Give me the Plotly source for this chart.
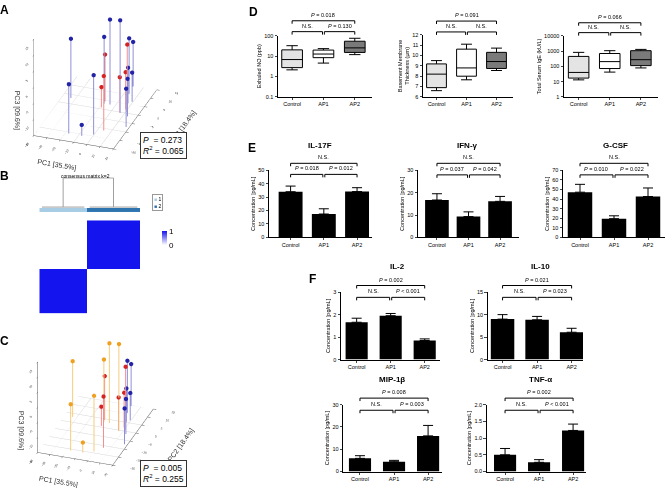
import plotly.graph_objects as go

W, H = 667, 491
FONT = "Arial, Liberation Sans, sans-serif"

# ---------------- data ----------------
groups = ["Control", "AP1", "AP2"]

# PCA scores (panels A and C)
pc1 = [-17.4, -33.4, -7.7, -0.3, 4.5, -8.3, -8.4, -8.9, -4.0, 6.8, 6.5, 17.7, 11.1, 8.8, 13.5, 7.4, 3.5, 9.4, 2.6]
pc2 = [-15.9, 3.0, -15.9, -14.2, -11.2, 0.7, 3.0, 4.2, 3.0, -0.4, -0.4, -7.3, 0.7, 1.9, -1.6, 5.3, 10.4, 6.5, 14.6]
pc3 = [0.4, 3.5, -11.6, 3.5, 2.0, -8.6, 5.8, -0.35, 11.5, 13.8, -3.9, -3.1, 6.0, -3.4, -3.3, -3.9, 2.3, -5.9, -1.1]
group_A = ["b", "b", "b", "b", "r", "r", "b", "r", "b", "b", "r", "b", "r", "r", "b", "b", "b", "b", "b"]
group_C = ["o", "o", "o", "o", "r", "r", "o", "r", "o", "o", "r", "b", "r", "r", "b", "b", "b", "b", "b"]
pc1_ticks = [-40, -30, -20, -10, 0, 10, 20]
pc2_ticks = [-20, -15, -10, -5, 0, 5, 10, 15]
pc3_ticks = [-15, -10, -5, 0, 5, 10, 15]
stats_A = ("0.273", "0.065")
stats_C = ("0.005", "0.255")

# consensus clustering (panel B)
cluster_order = [1] * 9 + [2] * 10

# Panel D box plots (lower whisker, Q1, median, Q3, upper whisker)
no_low = [2.1, 4.5, 11.7]
no_q1 = [2.7, 8.3, 15.0]
no_med = [6.7, 12.5, 25.0]
no_q3 = [20.0, 19.5, 53.0]
no_high = [32.0, 23.0, 74.0]

bm_low = [6.6, 7.65, 8.55]
bm_q1 = [6.89, 8.0, 8.75]
bm_med = [8.2, 8.8, 9.42]
bm_q3 = [9.19, 10.62, 10.31]
bm_high = [9.51, 11.1, 10.72]

ige_low = [13, 42, 79]
ige_q1 = [17, 72, 112]
ige_med = [40, 205, 275]
ige_q3 = [450, 700, 1070]
ige_high = [830, 1070, 1300]

# Panel E / F bar charts (mean, SEM)
il17f = [34.0, 17.4, 34.1]
il17f_err = [4.2, 3.9, 2.9]
ifng = [16.7, 9.3, 16.1]
ifng_err = [2.8, 2.1, 2.2]
gcsf = [47.1, 19.5, 42.6]
gcsf_err = [8.2, 3.0, 8.9]
il2 = [1.66, 1.95, 0.85]
il2_err = [0.18, 0.10, 0.07]
il10 = [9.0, 8.85, 6.08]
il10_err = [1.0, 0.75, 0.88]
mip1b = [5.9, 4.4, 16.0]
mip1b_err = [1.2, 0.6, 4.7]
tnfa = [0.50, 0.275, 1.23]
tnfa_err = [0.19, 0.08, 0.19]

# p-value labels: (top 0-2, low 0-1, low 1-2)
p_no = ("<i>P</i> = 0.018", "N.S.", "<i>P</i> = 0.130")
p_bm = ("<i>P</i> = 0.091", "N.S.", "N.S.")
p_ige = ("<i>P</i> = 0.066", "N.S.", "N.S.")
p_il17f = ("N.S.", "<i>P</i> = 0.018", "<i>P</i> = 0.012")
p_ifng = ("N.S.", "<i>P</i> = 0.037", "<i>P</i> = 0.042")
p_gcsf = ("N.S.", "<i>P</i> = 0.010", "<i>P</i> = 0.022")
p_il2 = ("<i>P</i> = 0.002", "N.S.", "<i>P</i> < 0.001")
p_il10 = ("<i>P</i> = 0.021", "N.S.", "<i>P</i> = 0.023")
p_mip = ("<i>P</i> = 0.008", "N.S.", "<i>P</i> = 0.003")
p_tnf = ("<i>P</i> = 0.002", "N.S.", "<i>P</i> < 0.001")

# ---------------- helpers ----------------
def xd(a, b):
    return [a / W, b / W]


def yd(top, bottom):
    return [1 - bottom / H, 1 - top / H]


def py(y):
    return 1 - y / H


fig = go.Figure()
layout = dict(width=W, height=H, margin=dict(l=0, r=0, t=0, b=0),
              paper_bgcolor="white", plot_bgcolor="white",
              font=dict(family=FONT, color="black"), showlegend=False)
shapes = []
annotations = []

xpos = list(range(len(groups)))

# ---------------- 3D PCA panels ----------------
def add_pca(scene, garr, palette):
    floor = pc3_ticks[0]
    gx, gy, gz = [], [], []
    for t in pc1_ticks:
        gx += [t, t, None]; gy += [pc2_ticks[0], pc2_ticks[-1], None]; gz += [floor, floor, None]
    for t in pc2_ticks:
        gx += [pc1_ticks[0], pc1_ticks[-1], None]; gy += [t, t, None]; gz += [floor, floor, None]
    fig.add_trace(go.Scatter3d(x=gx, y=gy, z=gz, mode="lines", line=dict(color="#d8d8d8", width=1),
                               scene=scene, hoverinfo="skip", showlegend=False))
    for key, (pcol, scol) in palette.items():
        idx = [i for i, g in enumerate(garr) if g == key]
        sx, sy, sz = [], [], []
        for i in idx:
            sx += [pc1[i], pc1[i], None]; sy += [pc2[i], pc2[i], None]; sz += [pc3[i], floor, None]
        fig.add_trace(go.Scatter3d(x=sx, y=sy, z=sz, mode="lines", line=dict(color=scol, width=2),
                                   scene=scene, hoverinfo="skip", showlegend=False))
        fig.add_trace(go.Scatter3d(x=[pc1[i] for i in idx], y=[pc2[i] for i in idx], z=[pc3[i] for i in idx],
                                   mode="markers", marker=dict(color=pcol, size=2.5),
                                   scene=scene, showlegend=False))


add_pca("scene", group_A, {"b": ("#2323a8", "#9090d8"), "r": ("#d42323", "#f09090")})
add_pca("scene2", group_C, {"o": ("#f0a020", "#f6cc80"), "r": ("#d42323", "#f09090"),
                            "b": ("#2323a8", "#9090d8")})


def scene_layout(top, bottom, cz):
    ac = dict(showgrid=False, showbackground=False, zeroline=False, showline=True, linecolor="#555",
              linewidth=1, ticks="outside", ticklen=3, tickcolor="#555",
              tickfont=dict(size=6, color="#333", family=FONT), showspikes=False)
    tf = dict(size=7, color="#333", family=FONT)
    return dict(domain=dict(x=[0.0, 0.30], y=yd(top, bottom)), bgcolor="white",
                xaxis=dict(ac, title=dict(text="PC1 [35.5%]", font=tf), range=[pc1_ticks[0], pc1_ticks[-1]], tickvals=pc1_ticks),
                yaxis=dict(ac, title=dict(text="PC2 [18.4%]", font=tf), range=[pc2_ticks[0], pc2_ticks[-1]], tickvals=pc2_ticks),
                zaxis=dict(ac, title=dict(text="PC3 [09.6%]", font=tf), range=[pc3_ticks[0], pc3_ticks[-1]], tickvals=pc3_ticks),
                aspectmode="manual", aspectratio=dict(x=1, y=1.55, z=1.3),
                camera=dict(projection=dict(type="orthographic"), eye=dict(x=0.97, y=-2.6, z=1.2),
                            up=dict(x=0, y=0, z=1), center=dict(x=0.06, y=0, z=cz)))


layout["scene"] = scene_layout(0, 171, -0.3)
layout["scene2"] = scene_layout(330, 491, -0.32)

for (stats, top) in ((stats_A, 131), (stats_C, 463)):
    annotations.append(dict(x=140 / W, y=py(top), xref="paper", yref="paper", xanchor="left", yanchor="top",
                            text="<i>P</i>  = %s<br><i>R</i><sup>2</sup> = %s" % stats, showarrow=False,
                            align="left", font=dict(size=8.5), bordercolor="#333", borderwidth=1, borderpad=2,
                            bgcolor="white"))

# ---------------- panel B ----------------
n = len(cluster_order)
cons = [[1 if cluster_order[i] == cluster_order[j] else 0 for j in range(n)] for i in range(n)]
fig.add_trace(go.Heatmap(z=cons, xaxis="x", yaxis="y", colorscale=[[0, "#ffffff"], [1, "#1414ee"]],
                         zmin=0, zmax=1, hoverinfo="skip",
                         colorbar=dict(x=152 / W, xanchor="left", y=py(221), yanchor="top", len=34 / H,
                                       lenmode="fraction", thickness=5, tickvals=[0, 1], ticks="",
                                       tickfont=dict(size=8), outlinewidth=0)))
fig.add_trace(go.Heatmap(z=[cluster_order], xaxis="x2", yaxis="y2", showscale=False,
                         colorscale=[[0, "#a6cde3"], [1, "#2e75b0"]], hoverinfo="skip"))
# dendrogram
centers = {}
dx, dy = [], []
for c in sorted(set(cluster_order)):
    leaves = [i for i, v in enumerate(cluster_order) if v == c]
    centers[c] = sum(leaves) / len(leaves)
    dx += [leaves[0], leaves[-1], None]; dy += [0.03, 0.03, None]
    dx += [centers[c], centers[c], None]; dy += [0.03, 1.0, None]
cs = sorted(centers)
dx += [centers[cs[0]], centers[cs[-1]], None]; dy += [1.0, 1.0, None]
fig.add_trace(go.Scatter(x=dx, y=dy, xaxis="x3", yaxis="y3", mode="lines",
                         line=dict(color="#a0a0a0", width=1), hoverinfo="skip"))
hide = dict(showticklabels=False, ticks="", showgrid=False, zeroline=False, showline=False)
layout["xaxis"] = dict(hide, domain=xd(39.3, 140), range=[-0.5, n - 0.5])
layout["yaxis"] = dict(hide, domain=yd(220, 314.3), range=[-0.5, n - 0.5])
layout["xaxis2"] = dict(hide, domain=xd(39.3, 140), range=[-0.5, n - 0.5], anchor="y2")
layout["yaxis2"] = dict(hide, domain=yd(207.5, 211.5), anchor="x2")
layout["xaxis3"] = dict(hide, domain=xd(39.3, 140), range=[-0.5, n - 0.5], anchor="y3")
layout["yaxis3"] = dict(hide, domain=yd(176.5, 207.5), range=[0, 1.02], anchor="x3")
annotations.append(dict(x=85 / W, y=py(175), xref="paper", yref="paper", text="consensus matrix k=2",
                        showarrow=False, font=dict(size=5), xanchor="center", yanchor="middle"))
annotations.append(dict(x=152 / W, y=py(193), xref="paper", yref="paper", xanchor="left", yanchor="top",
                        text='<span style="color:#a6cde3">■</span> 1<br><span style="color:#2e75b0">■</span> 2',
                        showarrow=False, align="left", font=dict(size=5), bordercolor="#999",
                        borderwidth=1, borderpad=1))

# ---------------- 2D plot helpers ----------------
def axes(k, x0, x1, ytop, ybot, xr, yr, ytitle, ytype="linear", yticks=None, yticktext=None):
    layout["xaxis%d" % k] = dict(domain=xd(x0, x1), range=xr, anchor="y%d" % k, tickvals=xpos, ticktext=groups,
                                 showline=True, linecolor="black", linewidth=1, ticks="outside", ticklen=2,
                                 tickfont=dict(size=5.5, color="black"), showgrid=False, zeroline=False)
    ya = dict(domain=yd(ytop, ybot), range=yr, anchor="x%d" % k, type=ytype, showline=True, linecolor="black",
              linewidth=1, ticks="outside", ticklen=2.5, tickfont=dict(size=5.5, color="black"), showgrid=False,
              zeroline=False, title=dict(text=ytitle, font=dict(size=5.5, color="black"), standoff=2))
    if yticks is not None:
        ya["tickvals"] = yticks
        ya["ticktext"] = yticktext if yticktext is not None else [str(v) for v in yticks]
    layout["yaxis%d" % k] = ya


def brackets(k, labels, top_line, low_line):
    xr = "x%d" % k
    spans = [(0, 2, top_line), (0, 0.97, low_line), (1.03, 2, low_line)]
    for (a, b, yl), lab in zip(spans, labels):
        for sh in ((a, b, yl, yl), (a, a, yl, yl + 3), (b, b, yl, yl + 3)):
            shapes.append(dict(type="line", xref=xr, yref="paper", x0=sh[0], x1=sh[1], y0=py(sh[2]), y1=py(sh[3]),
                               line=dict(color="black", width=1)))
        annotations.append(dict(x=(a + b) / 2, y=py(yl - 1), xref=xr, yref="paper", text=lab, showarrow=False,
                                xanchor="center", yanchor="bottom", font=dict(size=5.5)))


def title(x, y, text):
    annotations.append(dict(x=x / W, y=py(y), xref="paper", yref="paper", text="<b>%s</b>" % text,
                            showarrow=False, font=dict(size=8), xanchor="center", yanchor="middle"))


def add_bars(k, vals, errs, width):
    fig.add_trace(go.Bar(x=xpos, y=vals, width=width, xaxis="x%d" % k, yaxis="y%d" % k,
                         marker=dict(color="black", line=dict(width=0)),
                         error_y=dict(type="data", array=errs, arrayminus=[0] * len(errs), symmetric=False,
                                      color="black", thickness=1, width=5)))


def add_boxes(k, low, q1, med, q3, high, fills):
    for i in xpos:
        fig.add_trace(go.Box(x=[i], q1=[q1[i]], median=[med[i]], q3=[q3[i]], lowerfence=[low[i]],
                             upperfence=[high[i]], xaxis="x%d" % k, yaxis="y%d" % k, width=0.66,
                             whiskerwidth=0.55, fillcolor=fills[i], line=dict(color="black", width=1),
                             boxpoints=False, hoverinfo="skip"))


box_fills = ["#e4e4e4", "#ffffff", "#7a7a7a"]

# ---------------- panel D ----------------
add_boxes(4, no_low, no_q1, no_med, no_q3, no_high, box_fills)
axes(4, 278, 372, 33, 95, [-0.45, 2.55], [-1, 2], "Exhaled NO (ppb)", "log",
     [0.1, 1, 10, 100], ["0.1", "1", "10", "100"])
brackets(4, p_no, 18, 29)

add_boxes(5, bm_low, bm_q1, bm_med, bm_q3, bm_high, box_fills)
axes(5, 423, 513, 32.3, 95, [-0.45, 2.55], [6, 12], "Basement Membrane<br>Thickness (\u03bcm)", "linear",
     [6, 7, 8, 9, 10, 11, 12])
brackets(5, p_bm, 18.3, 29.3)

add_boxes(6, ige_low, ige_q1, ige_med, ige_q3, ige_high, box_fills)
axes(6, 564, 658, 33.3, 95, [-0.47, 2.55], [0, 4], "Total Serum IgE (kU/L)", "log",
     [1, 10, 100, 1000, 10000], ["1", "10", "100", "1000", "10000"])
brackets(6, p_ige, 20, 30)

# ---------------- panel E ----------------
add_bars(7, il17f, il17f_err, 0.72)
axes(7, 269, 372, 169.3, 237.3, [-0.65, 2.45], [0, 50], "Concentration [pg/mL]", "linear", [0, 10, 20, 30, 40, 50])
brackets(7, p_il17f, 162.3, 173.5)
title(320, 144, "IL-17F")

add_bars(8, ifng, ifng_err, 0.75)
axes(8, 418, 519, 169.3, 237.3, [-0.6, 2.6], [0, 30], "Concentration [pg/mL]", "linear", [0, 10, 20, 30])
brackets(8, p_ifng, 162.3, 174)
title(467, 144, "IFN-\u03b3")

add_bars(9, gcsf, gcsf_err, 0.72)
axes(9, 563, 665, 169.3, 237.3, [-0.5, 2.5], [0, 70], "Concentration [pg/mL]", "linear",
     [0, 10, 20, 30, 40, 50, 60, 70])
brackets(9, p_gcsf, 162.3, 174)
title(615, 144, "G-CSF")

# ---------------- panel F ----------------
add_bars(10, il2, il2_err, 0.65)
axes(10, 341, 440, 292.7, 361, [-0.46, 2.45], [0, 3], "Concentration [pg/mL]", "linear", [0, 1, 2, 3])
brackets(10, p_il2, 286, 298)
title(397, 267, "IL-2")

add_bars(11, il10, il10_err, 0.68)
axes(11, 487.7, 583, 292.7, 361, [-0.43, 2.33], [0, 15], "Concentration [pg/mL]", "linear", [0, 5, 10, 15])
brackets(11, p_il10, 286, 298)
title(540, 267, "IL-10")

add_bars(12, mip1b, mip1b_err, 0.65)
axes(12, 343.3, 441.7, 406.7, 474.3, [-0.49, 2.4], [0, 30], "Concentration [pg/mL]", "linear", [0, 10, 20, 30])
brackets(12, p_mip, 400, 412.3)
title(392, 381, "MIP-1\u03b2")

add_bars(13, tnfa, tnfa_err, 0.65)
axes(13, 486.7, 586, 406.7, 474.3, [-0.54, 2.38], [0, 2], "Concentration [pg/mL]", "linear",
     [0, 0.5, 1.0, 1.5, 2.0], ["0.0", "0.5", "1.0", "1.5", "2.0"])
brackets(13, p_tnf, 400, 412.3)
title(540, 381, "TNF-\u03b1")

# ---------------- panel letters ----------------
for lab, x, y in (("A", 4, 7), ("B", 4, 175), ("C", 4, 342), ("D", 253, 9), ("E", 252, 147), ("F", 312, 279)):
    annotations.append(dict(x=x / W, y=py(y), xref="paper", yref="paper", text="<b>%s</b>" % lab,
                            showarrow=False, font=dict(size=12), xanchor="center", yanchor="middle"))

layout["shapes"] = shapes
layout["annotations"] = annotations
fig.update_layout(**layout)
fig.write_html("out.html", config={"displayModeBar": False},
               post_script="document.body.style.margin='0px';document.body.style.overflow='hidden';")
